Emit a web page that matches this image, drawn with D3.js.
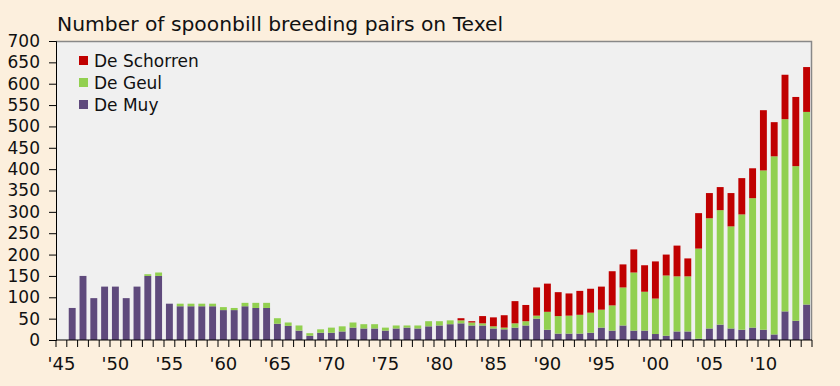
<!DOCTYPE html>
<html>
<head>
<meta charset="utf-8">
<script src="https://cdn.jsdelivr.net/npm/d3@7"></script>
<style>
  body { margin: 0; background: #fcefdd; }
  svg { display: block; font-family: "DejaVu Sans", Verdana, sans-serif; }
</style>
</head>
<body>
<div id="chart"></div>
<script>
// years 1945 - 2014
var years = d3.range(1945, 2015);

var deMuy = [0, 75, 150, 98, 125, 125, 98, 125, 150, 150,
    85, 79, 79, 79, 79, 70, 70, 79, 75, 75,
    38, 33, 22, 10, 17, 17, 20, 29, 27, 27,
    22, 27, 29, 27, 32, 34, 37, 39, 34, 34,
    27, 25, 29, 34, 50, 24, 15, 15, 15, 17,
    29, 22, 34, 22, 22, 14, 10, 20, 20, 3,
    27, 36, 27, 24, 29, 24, 13, 67, 45, 83];

var deGeul = [0, 0, 0, 0, 0, 0, 0, 0, 4, 8,
    0, 6, 6, 6, 6, 7, 5, 8, 12, 12,
    13, 8, 12, 6, 8, 12, 12, 12, 10, 10,
    7, 7, 5, 7, 12, 10, 9, 7, 7, 5,
    5, 4, 10, 10, 7, 42, 41, 42, 44, 47,
    42, 59, 89, 136, 91, 83, 141, 129, 129, 211,
    258, 268, 239, 270, 303, 373, 417, 450, 362, 451];

var deSchorren = [0, 0, 0, 0, 0, 0, 0, 0, 0, 0,
    0, 0, 0, 0, 0, 0, 0, 0, 0, 0,
    0, 0, 0, 0, 0, 0, 0, 0, 0, 0,
    0, 0, 0, 0, 0, 0, 0, 5, 3, 17,
    21, 29, 52, 38, 66, 66, 56, 52, 56, 56,
    54, 80, 54, 54, 62, 87, 49, 72, 42, 83,
    59, 54, 78, 85, 70, 141, 80, 104, 162, 105];

var seriesNames = ["De Muy", "De Geul", "De Schorren"];
var seriesColors = ["#5f4a7c", "#92d050", "#c00000"];
var yTicks = d3.range(0, 701, 50);
var xLabelYears = [1945, 1950, 1955, 1960, 1965, 1970, 1975, 1980, 1985, 1990, 1995, 2000, 2005, 2010];

var width = 840, height = 386;
var margin = { top: 41, right: 28, bottom: 46, left: 56 };
var innerW = width - margin.left - margin.right;
var innerH = height - margin.top - margin.bottom;

var svg = d3.select("#chart").append("svg")
    .attr("width", width)
    .attr("height", height);

svg.append("text")
    .attr("x", 57)
    .attr("y", 31)
    .attr("font-size", "20.3px")
    .attr("fill", "#111")
    .text("Number of spoonbill breeding pairs on Texel");

var g = svg.append("g")
    .attr("transform", "translate(" + margin.left + "," + margin.top + ")");

var x = d3.scaleBand().domain(years).range([0, innerW]).paddingInner(0.36).paddingOuter(0.18);
var xCat = d3.scaleBand().domain(years).range([0, innerW]);
var y = d3.scaleLinear().domain([0, 700]).range([innerH, 0]);

g.append("rect")
    .attr("width", innerW)
    .attr("height", innerH)
    .attr("fill", "#f0f0f0");

// plot border top + right
g.append("path")
    .attr("d", "M0,0.5H" + (innerW - 0.5) + "V" + innerH)
    .attr("fill", "none")
    .attr("stroke", "#888")
    .attr("stroke-width", 1.5);

var table = years.map(function (yr, i) {
    return { year: yr, "De Muy": deMuy[i], "De Geul": deGeul[i], "De Schorren": deSchorren[i] };
});
var stacked = d3.stack().keys(seriesNames)(table);

g.selectAll(".series")
    .data(stacked)
    .enter().append("g")
    .attr("class", "series")
    .attr("fill", function (d, i) { return seriesColors[i]; })
    .selectAll("rect")
    .data(function (d) { return d; })
    .enter().append("rect")
    .attr("x", function (d) { return x(d.data.year); })
    .attr("width", x.bandwidth())
    .attr("y", function (d) { return y(d[1]); })
    .attr("height", function (d) { return Math.max(0, y(d[0]) - y(d[1])); });

// y axis
var yAxis = g.append("g")
    .call(d3.axisLeft(y).tickValues(yTicks).tickSize(7).tickPadding(9));
yAxis.select(".domain").attr("stroke", "#000");
yAxis.selectAll("text").attr("font-size", "17px").attr("fill", "#111")
    .attr("font-family", "DejaVu Sans, Verdana, sans-serif");

// x axis: ticks at category boundaries
var xAxisG = g.append("g").attr("transform", "translate(0," + innerH + ")");
xAxisG.append("line")
    .attr("x1", 0).attr("x2", innerW)
    .attr("stroke", "#000");
xAxisG.selectAll(".xtick")
    .data(years.concat([2015]))
    .enter().append("line")
    .attr("x1", function (d) { return d === 2015 ? innerW : xCat(d); })
    .attr("x2", function (d) { return d === 2015 ? innerW : xCat(d); })
    .attr("y1", 0).attr("y2", 7)
    .attr("stroke", "#000");
xAxisG.selectAll(".xlabel")
    .data(xLabelYears)
    .enter().append("text")
    .attr("x", function (d) { return xCat(d) + xCat.bandwidth() / 2; })
    .attr("y", 30)
    .attr("text-anchor", "middle")
    .attr("font-size", "18px")
    .attr("fill", "#111")
    .text(function (d) { return "'" + String(d).slice(2); });

// legend
var legendItems = ["De Schorren", "De Geul", "De Muy"];
var legend = g.selectAll(".legend")
    .data(legendItems)
    .enter().append("g")
    .attr("transform", function (d, i) { return "translate(23," + (15 + i * 22) + ")"; });
legend.append("rect")
    .attr("width", 9).attr("height", 9)
    .attr("fill", function (d) { return seriesColors[seriesNames.indexOf(d)]; });
legend.append("text")
    .attr("x", 15)
    .attr("y", 11)
    .attr("font-size", "17px")
    .attr("fill", "#111")
    .text(function (d) { return d; });
</script>
</body>
</html>
